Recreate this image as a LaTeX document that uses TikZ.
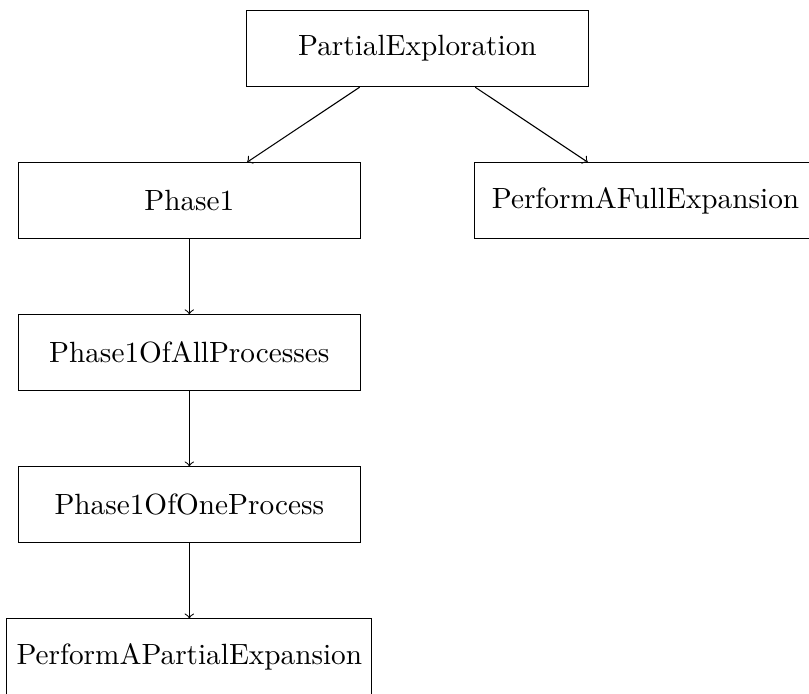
\documentclass[tikz,border=0pt,11pt]{standalone}
\usepackage{tikz}

\begin{document}
\begin{tikzpicture}[
    classnode/.style={draw, rectangle, minimum width=4.5cm, minimum height=1cm},
]
    \useasboundingbox (-5.49, -8.48) rectangle (5.15, 0.64);

    \node[classnode] (pe) at (0, 0) {PartialExploration};

    \node[classnode] (p1) at (-3, -2) {Phase1};
    \node[classnode] (pfe) at (3, -2) {PerformAFullExpansion};

    \node[classnode] (p1all) at (-3, -4) {Phase1OfAllProcesses};
    \node[classnode] (p1one) at (-3, -6) {Phase1OfOneProcess};
    \node[classnode] (ppe) at (-3, -8) {PerformAPartialExpansion};

    \foreach \c in {p1, pfe} {
        \draw[->] (pe) -- (\c);
    }

    \draw[->] (p1) -- (p1all);
    \draw[->] (p1all) -- (p1one);
    \draw[->] (p1one) -- (ppe);

\end{tikzpicture}
\end{document}
